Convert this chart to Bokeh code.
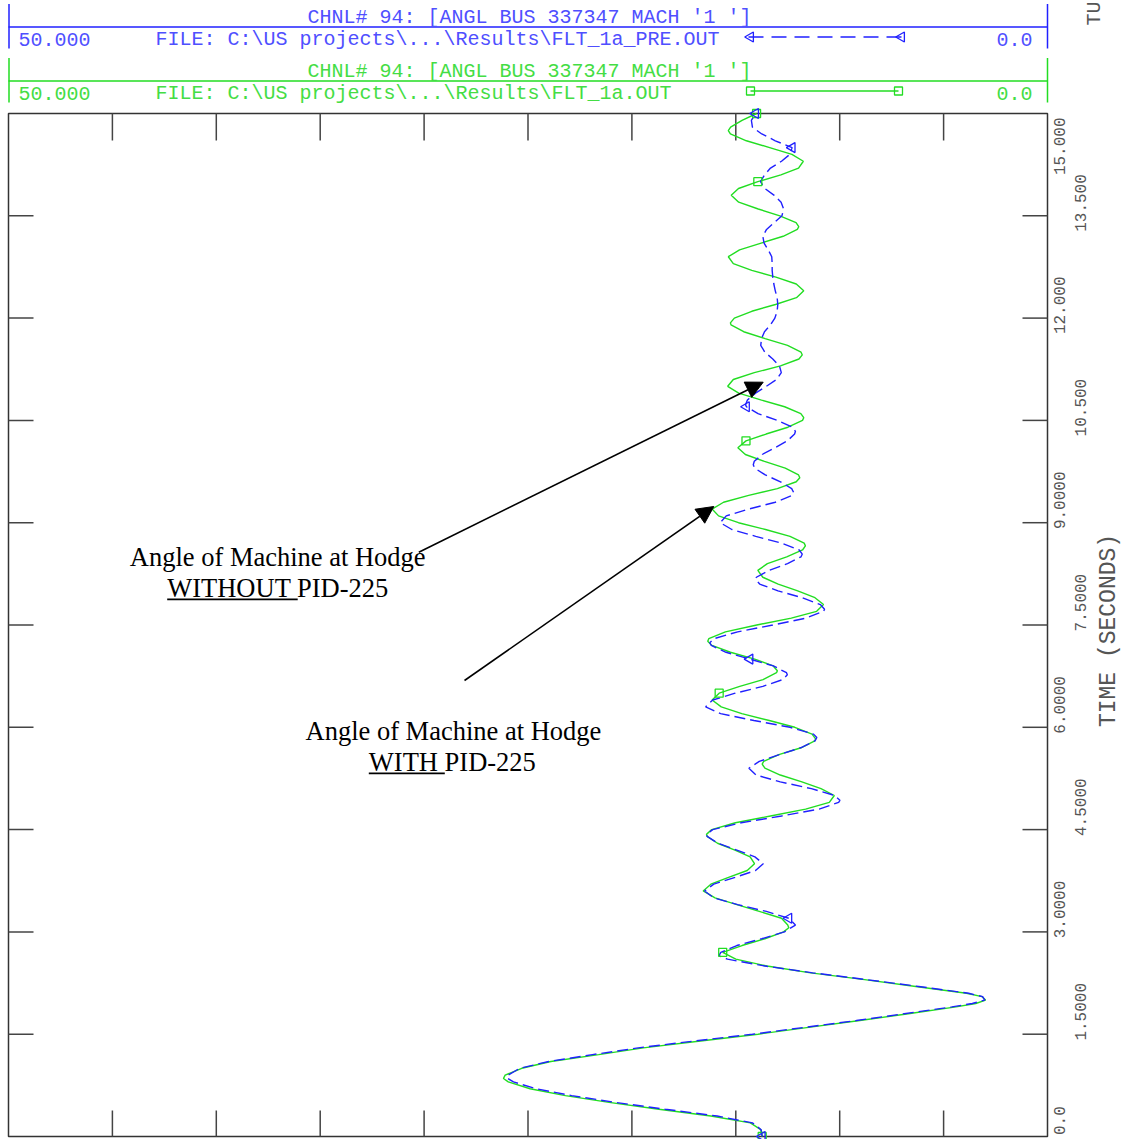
import math
from bokeh.plotting import figure
from bokeh.models import Range1d, ColumnDataSource, Arrow, NormalHead
from bokeh.core.properties import value
from bokeh.embed import file_html
from bokeh.resources import INLINE

# ---------------- data ----------------
TIME_STEP = 0.1
# Channel 94 angle, file FLT_1a.OUT (green, solid), every 0.1 s
green_angle = [
    13.73, 13.80, 14.30, 16.20, 18.70, 21.10, 23.20, 24.90, 25.95, 26.10,
    25.30, 23.90, 21.60, 19.45, 16.70, 13.93, 11.50, 9.03, 6.70, 4.40,
    2.98, 3.90, 6.34, 8.80, 11.40, 13.50, 15.00, 15.63, 14.70, 13.60,
    12.70, 12.50, 12.80, 13.87, 14.95, 16.00, 16.57, 16.20, 15.35, 14.45,
    14.10, 14.31, 15.04, 15.88, 16.38, 16.16, 15.02, 13.33, 11.64, 10.50,
    10.26, 10.90, 11.82, 12.86, 13.60, 13.66, 12.93, 11.86, 11.20, 11.33,
    12.16, 13.39, 14.71, 15.70, 16.14, 15.80, 14.81, 13.69, 13.04, 13.20,
    14.09, 15.26, 16.15, 16.30, 15.50, 13.99, 12.33, 11.11, 10.78, 11.19,
    12.02, 12.96, 13.70, 13.94, 13.48, 12.55, 11.79, 11.71, 12.39, 13.57,
    14.87, 15.83, 16.14, 15.59, 14.38, 13.00, 12.09, 11.98, 12.62, 13.62,
    14.54, 14.90, 14.51, 13.54, 12.49, 11.79, 11.87, 12.65, 13.80, 14.86,
    15.39, 15.12, 14.11, 12.85, 11.96, 11.86, 12.51, 13.59, 14.62, 15.23,
    15.07, 14.23, 13.09, 12.08, 11.73, 12.09, 13.07, 14.23, 15.12, 15.36,
    14.82, 13.78, 12.72, 12.04, 12.10, 12.88, 13.92, 14.86, 15.22, 14.87,
    13.94, 12.83, 11.98, 11.75, 12.30, 13.37, 14.49, 15.26, 15.25, 14.70,
    14.00,
]
# extra green readings at the swing extremes
green_peak_t = [0.85, 1.95, 2.05, 3.06, 4.43, 5.46, 5.83, 6.83, 7.26, 8.66,
                9.66, 10.54, 11.46, 11.93, 13.34, 14.75]
green_peak_a = [26.18, 3.45, 3.15, 12.45, 16.41, 13.73, 11.16, 13.00, 16.35, 11.65,
                11.92, 11.73, 11.80, 15.26, 11.97, 15.36]

# Channel 94 angle, file FLT_1a_PRE.OUT (blue, dashed), every 0.1 s
blue_angle = [
    13.73, 13.78, 14.20, 15.90, 18.40, 20.80, 22.90, 24.60, 25.70, 25.95,
    25.40, 24.00, 21.90, 19.70, 17.00, 14.20, 11.70, 9.20, 6.90, 4.60,
    3.02, 3.80, 6.20, 8.70, 11.30, 13.60, 15.40, 15.72, 14.95, 13.75,
    12.66, 12.13, 12.45, 13.53, 14.91, 16.06, 16.50, 16.06, 15.03, 14.05,
    13.68, 14.08, 14.95, 15.86, 16.38, 16.11, 14.74, 12.80, 10.99, 10.05,
    10.24, 11.36, 12.86, 14.02, 14.37, 13.87, 12.90, 11.88, 11.19, 11.26,
    12.39, 14.13, 15.73, 16.45, 16.11, 15.03, 13.70, 12.74, 12.56, 13.19,
    14.32, 15.47, 16.18, 16.05, 14.91, 13.22, 11.64, 10.78, 10.93, 11.81,
    12.97, 13.85, 14.01, 13.41, 12.51, 11.86, 11.95, 12.79, 14.04, 15.19,
    15.75, 15.46, 14.38, 13.10, 12.29, 12.31, 12.85, 13.58, 14.09, 14.11,
    13.73, 13.11, 12.52, 12.17, 12.27, 13.00, 13.93, 14.49, 14.44, 14.05,
    13.53, 13.04, 12.81, 12.90, 13.22, 13.60, 13.80, 13.76, 13.62, 13.33,
    13.12, 13.01, 12.98, 13.01, 13.10, 13.17, 13.22, 13.25, 13.25, 13.27,
    13.44, 13.64, 13.70, 13.52, 13.15, 12.78, 12.70, 12.82, 13.15, 13.60,
    13.81, 13.62, 13.33, 12.80, 12.40, 12.29, 13.10, 13.75, 14.20, 14.25,
    14.05,
]
# extra blue readings at the swing extremes
blue_peak_t = [0.86, 1.95, 2.05, 2.65, 4.43, 4.93, 5.85, 6.77, 7.24, 7.73,
               8.17, 8.54, 9.44, 9.85, 10.34, 10.73]
blue_peak_a = [26.02, 3.62, 3.12, 15.82, 16.41, 9.99, 11.10, 12.52, 16.25, 10.73,
               14.05, 11.80, 12.21, 14.16, 12.13, 14.53]

time_s = [round(i * TIME_STEP, 1) for i in range(len(green_angle))]

green_marker_times = [0.0, 2.7, 6.5, 10.2, 14.0, 15.0]
blue_marker_times = [0.0, 3.2, 7.0, 10.7, 14.5, 15.0]

angle_max, angle_min = 50.0, 0.0
time_min, time_max = 0.0, 15.0
angle_ticks = [5, 10, 15, 20, 25, 30, 35, 40, 45]
time_ticks = [0.0, 1.5, 3.0, 4.5, 6.0, 7.5, 9.0, 10.5, 12.0, 13.5, 15.0]
time_tick_labels = ["0.0", "1.5000", "3.0000", "4.5000", "6.0000", "7.5000",
                    "9.0000", "10.500", "12.000", "13.500", "15.000"]

channel_title = "CHNL# 94: [ANGL BUS 337347 MACH '1 ']"
blue_file = r"FILE: C:\US projects\...\Results\FLT_1a_PRE.OUT"
green_file = r"FILE: C:\US projects\...\Results\FLT_1a.OUT"
time_axis_title = "TIME (SECONDS)"
date_stamp = "TU"
note_without = ["Angle of Machine at Hodge", "WITHOUT PID-225"]
note_with = ["Angle of Machine at Hodge", "WITH PID-225"]

# ---------------- styles / page geometry ----------------
BLUE_LINE = "#2020ff"
BLUE_TEXT = "#4f4fff"
GREEN_LINE = "#22dd22"
GREEN_TEXT = "#44dd44"
MONO = "Liberation Mono"
SERIF = "Liberation Serif"
AXIS_GREY = "#555555"
BOX = "#333333"

PAGE_W, PAGE_H = 1122, 1139
BOX_L, BOX_R, BOX_T, BOX_B = 8, 1047, 113, 1136        # plot box on the page
PX_A = (BOX_R - BOX_L) / (angle_max - angle_min)        # px per degree
PX_T = (BOX_B - BOX_T) / (time_max - time_min)          # px per second

def A(px):   # page x -> angle
    return angle_max - (px - BOX_L) / PX_A

def T(py):   # page y -> time
    return time_min + (BOX_B - py) / PX_T

MONO_MID = 0.34     # baseline -> middle of the text box, in em
SERIF_MID = 0.337

p = figure(width=PAGE_W, height=PAGE_H,
           x_range=Range1d(A(0), A(PAGE_W)), y_range=Range1d(T(PAGE_H), T(0)),
           toolbar_location=None, output_backend="svg", min_border=0,
           x_axis_location=None, y_axis_location=None)
p.grid.visible = False
p.outline_line_color = None

def mono_text(x, base_y, text, size, color, align="left"):
    p.text(x=[A(x)], y=[T(base_y - MONO_MID * size)], text=[text], text_font=value(MONO),
           text_font_size=value(f"{size}px"), text_color=color, text_align=align,
           text_baseline="middle")

# ---------------- PSS/E style channel header ----------------
def header_block(rule_y, color_line, color_text, fname, legend_kind):
    p.segment(x0=[A(8.5), A(1047)], y0=[T(rule_y - 23)] * 2, x1=[A(8.5), A(1047)],
              y1=[T(rule_y + 21.5)] * 2, line_color=color_line, line_width=1.5)
    p.segment(x0=[A(8)], y0=[T(rule_y)], x1=[A(1047)], y1=[T(rule_y)],
              line_color=color_line, line_width=1.5)
    mono_text(529, rule_y - 2.5, channel_title, 20, color_text, "center")
    mono_text(18, rule_y + 19.5, f"{angle_max:.3f}", 20, color_text)
    mono_text(155, rule_y + 19.5, fname, 20, color_text)
    mono_text(1032, rule_y + 19.5, f"{angle_min:.1f}", 20, color_text, "right")
    ly = T(rule_y + 10)
    if legend_kind == "blue":
        p.line(x=[A(748), A(901)], y=[ly, ly], line_color=color_line, line_width=1.3,
               line_dash="15 8")
        p.scatter(x=[A(750), A(901)], y=[ly, ly], marker="triangle", size=10,
                  angle=math.pi / 2, fill_color=None, line_color=color_line, line_width=1.3)
    else:
        p.line(x=[A(750), A(898)], y=[ly, ly], line_color=color_line, line_width=1.3)
        p.scatter(x=[A(750), A(898)], y=[ly, ly], marker="square", size=8,
                  fill_color=None, line_color=color_line, line_width=1.3)

header_block(26.5, BLUE_LINE, BLUE_TEXT, blue_file, "blue")
header_block(80.5, GREEN_LINE, GREEN_TEXT, green_file, "green")

# date stamp at the top right corner
p.text(x=[A(1100 - 0.3 * 20)], y=[T(25)], text=[date_stamp], angle=math.pi / 2,
       text_font=value(MONO), text_font_size=value("20px"), text_color=AXIS_GREY,
       text_align="left", text_baseline="middle")

# ---------------- plot box and ticks ----------------
p.quad(left=[angle_max], right=[angle_min], bottom=[time_min], top=[time_max],
       fill_color=None, line_color=BOX, line_width=1.5)
p.segment(x0=angle_ticks, y0=[time_min] * len(angle_ticks), x1=angle_ticks,
          y1=[time_min + 26 / PX_T] * len(angle_ticks), line_color="#444444", line_width=1.5)
p.segment(x0=angle_ticks, y0=[time_max] * len(angle_ticks), x1=angle_ticks,
          y1=[time_max - 27 / PX_T] * len(angle_ticks), line_color="#444444", line_width=1.5)
inner_t = time_ticks[1:-1]
p.segment(x0=[angle_max] * len(inner_t), y0=inner_t, x1=[angle_max - 25 / PX_A] * len(inner_t),
          y1=inner_t, line_color="#444444", line_width=1.5)
p.segment(x0=[angle_min] * len(inner_t), y0=inner_t, x1=[angle_min + 25 / PX_A] * len(inner_t),
          y1=inner_t, line_color="#444444", line_width=1.5)

# time labels on the right, alternating offsets as in the original plot
ADV = 9.6    # advance of a 16px mono glyph
lab_x, lab_y = [], []
for i, (tv, lab) in enumerate(zip(time_ticks, time_tick_labels)):
    n_int = len(lab.split(".")[0])
    y0 = tv - ((n_int + 0.5) * ADV - 8) / PX_T
    y0 = max(y0, time_min + 1.5 / PX_T)
    y0 = min(y0, time_max - (len(lab) * ADV + 4) / PX_T)
    lab_y.append(y0)
    base_x = BOX_R + (17 if i % 2 == 0 else 38)
    lab_x.append(A(base_x - 0.3 * 16))
p.text(x=lab_x, y=lab_y, text=time_tick_labels, angle=math.pi / 2, text_font=value(MONO),
       text_font_size=value("16px"), text_color=AXIS_GREY, text_align="left",
       text_baseline="middle")
p.text(x=[A(1108.5)], y=[T(630)], text=[time_axis_title], angle=math.pi / 2,
       text_font=value(MONO), text_font_size=value("23px"), text_color=AXIS_GREY,
       text_align="center", text_baseline="middle")

# ---------------- curves ----------------
def merged(base_a, extra_t, extra_a):
    pts = sorted(list(zip(time_s, base_a)) + list(zip(extra_t, extra_a)))
    return [t for t, _ in pts], [a for _, a in pts]

g_t, g_a = merged(green_angle, green_peak_t, green_peak_a)
b_t, b_a = merged(blue_angle, blue_peak_t, blue_peak_a)
src_g = ColumnDataSource(dict(t=g_t, a=g_a))
src_b = ColumnDataSource(dict(t=b_t, a=b_a))
p.line(x="a", y="t", source=src_g, line_color=GREEN_LINE, line_width=1.4)
p.line(x="a", y="t", source=src_b, line_color=BLUE_LINE, line_width=1.4, line_dash="11 5")

gi = [round(t / TIME_STEP) for t in green_marker_times]
bi = [round(t / TIME_STEP) for t in blue_marker_times]
p.scatter(x=[green_angle[i] for i in gi], y=[time_s[i] for i in gi], marker="square", size=8,
          fill_color=None, line_color=GREEN_LINE, line_width=1.3)
p.scatter(x=[blue_angle[i] for i in bi], y=[time_s[i] for i in bi], marker="triangle", size=10,
          angle=math.pi / 2, fill_color=None, line_color=BLUE_LINE, line_width=1.3)

# ---------------- annotations ----------------
def note(lines, left1, base1, left2, base2, ul_len, size=26.5):
    for left, base, txt in ((left1, base1, lines[0]), (left2, base2, lines[1])):
        p.text(x=[A(left)], y=[T(base - SERIF_MID * size)], text=[txt], text_font=value(SERIF),
               text_font_size=value(f"{size}px"), text_color="black", text_align="left",
               text_baseline="middle")
    p.segment(x0=[A(left2)], y0=[T(base2 + 2.8)], x1=[A(left2 + ul_len)], y1=[T(base2 + 2.8)],
              line_color="black", line_width=1.8)

note(note_without, 129.3, 565.7, 166.7, 596.0, 130.5)
note(note_with, 305.0, 739.0, 368.3, 770.0, 76.0)

for (sx, sy, ex, ey) in ((418.3, 551.7, 762.7, 381.7), (464.0, 680.0, 713.3, 506.0)):
    p.add_layout(Arrow(end=NormalHead(size=17, fill_color="black", line_color="black"),
                       x_start=A(sx), y_start=T(sy), x_end=A(ex), y_end=T(ey),
                       line_color="black", line_width=1.6))

with open("out.html", "w") as f:
    f.write(file_html(p, INLINE))
